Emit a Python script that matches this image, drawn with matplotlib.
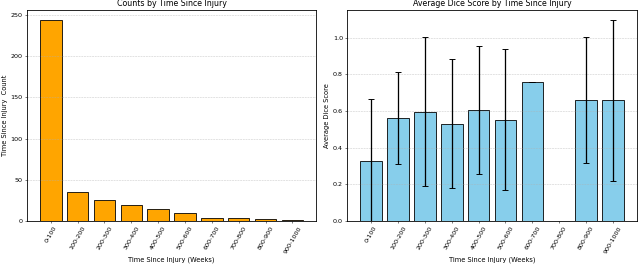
import matplotlib

matplotlib.use("Agg")

import matplotlib.pyplot as plt
import numpy as np

bins = ["0-100", "100-200", "200-300", "300-400", "400-500",
        "500-600", "600-700", "700-800", "800-900", "900-1000"]
counts = [244, 35, 26, 19, 14, 10, 4, 3, 2, 1]
dice_mean = [0.327, 0.562, 0.595, 0.530, 0.605, 0.553, 0.756, np.nan, 0.659, 0.657]
dice_std = [0.339, 0.250, 0.406, 0.352, 0.347, 0.384, 0.0, np.nan, 0.343, 0.438]

plt.rcParams["axes.linewidth"] = 1.3

# drawn large, saved at a low dpi so everything scales down like the reference
fig, (ax1, ax2) = plt.subplots(1, 2, figsize=(14, 5.775))
fig.subplots_adjust(left=0.042, right=0.995, top=0.962, bottom=0.163, wspace=0.107)

x = np.arange(len(bins))

ax1.bar(x, counts, color="orange", edgecolor="black", linewidth=1.3)
ax1.set_title("Counts by Time Since Injury", fontsize=12.5)
ax1.set_xlabel("Time Since Injury (Weeks)", fontsize=10.5)
ax1.set_ylabel("Time Since Injury  Count", fontsize=10.5)
ax1.set_xticks(x)
ax1.set_xticklabels(bins, rotation=60)
ax1.grid(axis="y", linestyle="--", alpha=0.7)

ax2.bar(x, dice_mean, yerr=dice_std, color="skyblue", edgecolor="black", linewidth=1.3,
        capsize=5, error_kw={"ecolor": "black", "elinewidth": 2, "capthick": 1.5})
ax2.set_title("Average Dice Score by Time Since Injury", fontsize=12.5)
ax2.set_xlabel("Time Since Injury (Weeks)", fontsize=10.5)
ax2.set_ylabel("Average Dice Score", fontsize=10.5)
ax2.set_xticks(x)
ax2.set_xticklabels(bins, rotation=60)
ax2.set_ylim(0, 1.15)
ax2.grid(axis="y", linestyle="--", alpha=0.7)

fig.savefig("out.png", dpi=640 / 14)
plt.close(fig)
